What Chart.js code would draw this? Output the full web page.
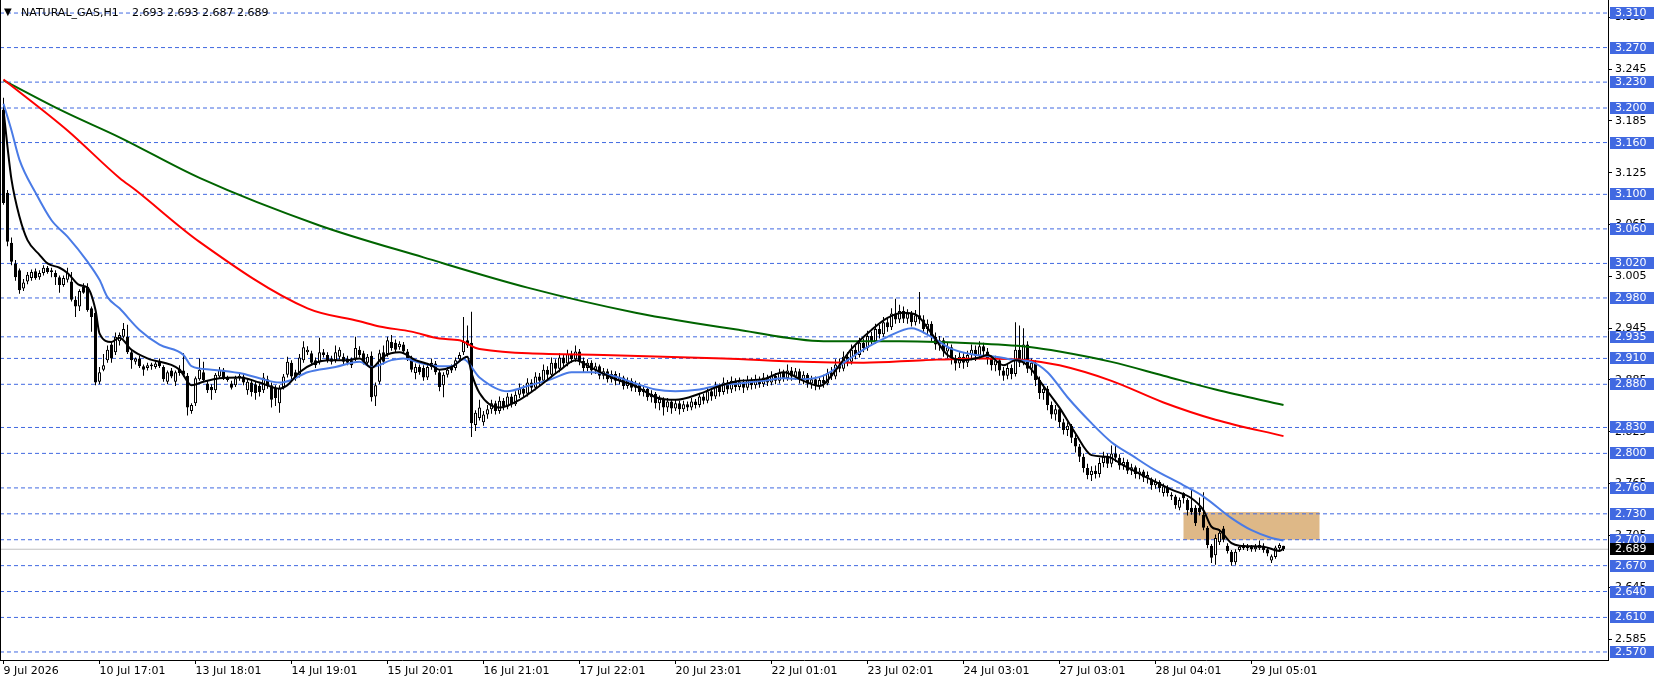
<!DOCTYPE html>
<html>
<head>
<meta charset="utf-8">
<title>NATURAL_GAS,H1</title>
<script src="https://cdn.jsdelivr.net/npm/chart.js@4/dist/chart.umd.min.js"></script>
<style>
  html, body { margin: 0; padding: 0; background: #ffffff; }
  canvas { display: block; }
</style>
</head>
<body>
<canvas id="myChart" width="1658" height="684"></canvas>
<script>
"use strict";

const symbolName = "NATURAL_GAS,H1";

// hourly candles, bar 0 = 9 Jul 2026
const opens = [
  3.198, 3.102, 3.044, 3.020, 3.012, 2.991, 2.999, 3.003, 3.011, 3.004,
  3.009, 3.015, 3.010, 3.009, 3.004, 2.995, 3.001, 2.999, 2.978, 2.970,
  2.993, 2.993, 2.968, 2.963, 2.883, 2.897, 2.908, 2.926, 2.917, 2.930,
  2.935, 2.935, 2.917, 2.906, 2.910, 2.901, 2.899, 2.901, 2.900, 2.906,
  2.900, 2.883, 2.896, 2.883, 2.898, 2.896, 2.890, 2.849, 2.858, 2.886,
  2.894, 2.881, 2.877, 2.873, 2.889, 2.897, 2.888, 2.881, 2.879, 2.887,
  2.889, 2.873, 2.882, 2.880, 2.878, 2.873, 2.886, 2.879, 2.876, 2.858,
  2.877, 2.891, 2.905, 2.894, 2.891, 2.908, 2.917, 2.916, 2.908, 2.906,
  2.917, 2.914, 2.910, 2.908, 2.912, 2.912, 2.910, 2.908, 2.910, 2.920,
  2.916, 2.905, 2.913, 2.866, 2.883, 2.917, 2.915, 2.929, 2.928, 2.923,
  2.926, 2.918, 2.910, 2.893, 2.900, 2.899, 2.888, 2.905, 2.904, 2.894,
  2.879, 2.891, 2.900, 2.899, 2.909, 2.917, 2.931, 2.928, 2.833, 2.841,
  2.836, 2.845, 2.851, 2.858, 2.849, 2.861, 2.854, 2.866, 2.857, 2.868,
  2.875, 2.869, 2.882, 2.876, 2.889, 2.884, 2.897, 2.891, 2.905, 2.898,
  2.911, 2.904, 2.915, 2.909, 2.918, 2.907, 2.899, 2.905, 2.896, 2.901,
  2.890, 2.895, 2.886, 2.892, 2.884, 2.888, 2.878, 2.884, 2.876, 2.880,
  2.871, 2.875, 2.865, 2.869, 2.858, 2.863, 2.853, 2.860, 2.852, 2.858,
  2.851, 2.857, 2.853, 2.860, 2.856, 2.866, 2.861, 2.872, 2.866, 2.878,
  2.871, 2.882, 2.874, 2.884, 2.877, 2.883, 2.876, 2.885, 2.879, 2.886,
  2.880, 2.888, 2.882, 2.890, 2.884, 2.893, 2.887, 2.896, 2.889, 2.895,
  2.886, 2.891, 2.881, 2.886, 2.878, 2.885, 2.881, 2.893, 2.889, 2.903,
  2.898, 2.912, 2.906, 2.920, 2.914, 2.928, 2.922, 2.936, 2.930, 2.944,
  2.938, 2.952, 2.946, 2.962, 2.955, 2.965, 2.956, 2.962, 2.952, 2.960,
  2.955, 2.944, 2.950, 2.935, 2.926, 2.931, 2.918, 2.923, 2.910, 2.904,
  2.912, 2.905, 2.914, 2.920, 2.913, 2.924, 2.918, 2.910, 2.902, 2.908,
  2.896, 2.890, 2.899, 2.892, 2.920, 2.905, 2.926, 2.898, 2.905, 2.885,
  2.870, 2.875, 2.856, 2.845, 2.851, 2.836, 2.827, 2.832, 2.818, 2.808,
  2.796, 2.783, 2.775, 2.780, 2.776, 2.789, 2.796, 2.788, 2.800, 2.795,
  2.786, 2.790, 2.780, 2.784, 2.776, 2.779, 2.772, 2.770, 2.763, 2.767,
  2.754, 2.760, 2.752, 2.750, 2.737, 2.754, 2.746, 2.737, 2.737, 2.737,
  2.729, 2.714, 2.693, 2.682, 2.697, 2.713, 2.693, 2.686, 2.674, 2.688,
  2.694, 2.690, 2.692, 2.689, 2.690, 2.693, 2.689, 2.676, 2.680, 2.690,
  2.693
];
const highs = [
  3.212, 3.105, 3.050, 3.024, 3.014, 3.002, 3.010, 3.013, 3.014, 3.012,
  3.018, 3.017, 3.015, 3.012, 3.006, 3.006, 3.015, 3.010, 2.982, 2.990,
  2.997, 2.997, 2.970, 2.966, 2.900, 2.915, 2.925, 2.930, 2.940, 2.940,
  2.951, 2.949, 2.920, 2.911, 2.913, 2.903, 2.905, 2.905, 2.906, 2.910,
  2.902, 2.896, 2.899, 2.896, 2.902, 2.916, 2.893, 2.858, 2.889, 2.910,
  2.906, 2.884, 2.880, 2.893, 2.900, 2.899, 2.890, 2.884, 2.890, 2.892,
  2.892, 2.886, 2.885, 2.883, 2.881, 2.893, 2.890, 2.882, 2.879, 2.879,
  2.892, 2.912, 2.908, 2.897, 2.915, 2.930, 2.924, 2.919, 2.911, 2.934,
  2.921, 2.917, 2.913, 2.925, 2.923, 2.916, 2.913, 2.911, 2.935, 2.924,
  2.919, 2.915, 2.918, 2.882, 2.920, 2.925, 2.935, 2.937, 2.932, 2.930,
  2.929, 2.921, 2.913, 2.904, 2.903, 2.902, 2.903, 2.910, 2.907, 2.897,
  2.894, 2.900, 2.903, 2.911, 2.917, 2.958, 2.948, 2.964, 2.850, 2.862,
  2.849, 2.856, 2.862, 2.861, 2.866, 2.864, 2.870, 2.869, 2.872, 2.881,
  2.879, 2.887, 2.886, 2.894, 2.893, 2.903, 2.901, 2.911, 2.909, 2.916,
  2.915, 2.920, 2.919, 2.925, 2.921, 2.911, 2.909, 2.908, 2.905, 2.903,
  2.899, 2.898, 2.896, 2.895, 2.893, 2.890, 2.888, 2.887, 2.884, 2.882,
  2.879, 2.877, 2.873, 2.871, 2.867, 2.865, 2.864, 2.862, 2.862, 2.861,
  2.861, 2.860, 2.864, 2.863, 2.870, 2.869, 2.877, 2.875, 2.883, 2.881,
  2.888, 2.885, 2.889, 2.887, 2.888, 2.886, 2.890, 2.888, 2.891, 2.889,
  2.893, 2.891, 2.895, 2.893, 2.898, 2.897, 2.903, 2.900, 2.899, 2.898,
  2.895, 2.893, 2.890, 2.889, 2.889, 2.891, 2.898, 2.900, 2.909, 2.910,
  2.918, 2.917, 2.926, 2.925, 2.934, 2.933, 2.942, 2.941, 2.950, 2.949,
  2.958, 2.957, 2.968, 2.979, 2.972, 2.970, 2.967, 2.965, 2.966, 2.987,
  2.960, 2.955, 2.953, 2.940, 2.936, 2.934, 2.928, 2.926, 2.914, 2.917,
  2.916, 2.919, 2.926, 2.925, 2.930, 2.928, 2.922, 2.914, 2.913, 2.911,
  2.900, 2.904, 2.903, 2.952, 2.948, 2.945, 2.930, 2.910, 2.908, 2.889,
  2.880, 2.878, 2.860, 2.856, 2.854, 2.840, 2.836, 2.834, 2.822, 2.811,
  2.800, 2.788, 2.785, 2.786, 2.795, 2.802, 2.800, 2.809, 2.811, 2.799,
  2.795, 2.793, 2.788, 2.786, 2.783, 2.781, 2.779, 2.772, 2.771, 2.769,
  2.765, 2.763, 2.755, 2.752, 2.749, 2.755, 2.748, 2.758, 2.740, 2.749,
  2.755, 2.716, 2.695, 2.706, 2.712, 2.716, 2.696, 2.688, 2.689, 2.694,
  2.696, 2.695, 2.694, 2.695, 2.699, 2.696, 2.691, 2.683, 2.693, 2.696,
  2.693
];
const lows = [
  3.088, 3.040, 3.018, 3.000, 2.985, 2.988, 2.996, 3.000, 3.001, 3.001,
  3.006, 3.008, 3.004, 2.995, 2.986, 2.993, 2.998, 2.976, 2.958, 2.965,
  2.985, 2.964, 2.941, 2.879, 2.880, 2.895, 2.905, 2.905, 2.914, 2.925,
  2.933, 2.915, 2.898, 2.903, 2.899, 2.890, 2.896, 2.897, 2.898, 2.899,
  2.883, 2.880, 2.887, 2.878, 2.890, 2.889, 2.844, 2.846, 2.855, 2.884,
  2.883, 2.870, 2.862, 2.870, 2.887, 2.885, 2.883, 2.874, 2.877, 2.884,
  2.879, 2.868, 2.866, 2.862, 2.866, 2.870, 2.875, 2.853, 2.855, 2.847,
  2.874, 2.888, 2.886, 2.884, 2.888, 2.905, 2.914, 2.902, 2.899, 2.903,
  2.911, 2.905, 2.903, 2.905, 2.909, 2.903, 2.902, 2.899, 2.907, 2.911,
  2.903, 2.902, 2.860, 2.855, 2.880, 2.903, 2.912, 2.919, 2.917, 2.920,
  2.915, 2.907, 2.894, 2.886, 2.891, 2.884, 2.885, 2.897, 2.891, 2.872,
  2.865, 2.888, 2.893, 2.896, 2.906, 2.914, 2.922, 2.819, 2.826, 2.838,
  2.832, 2.840, 2.846, 2.845, 2.846, 2.850, 2.851, 2.853, 2.855, 2.864,
  2.865, 2.866, 2.872, 2.873, 2.879, 2.881, 2.886, 2.888, 2.893, 2.894,
  2.900, 2.901, 2.905, 2.906, 2.902, 2.894, 2.895, 2.891, 2.892, 2.886,
  2.886, 2.882, 2.882, 2.879, 2.880, 2.874, 2.875, 2.872, 2.871, 2.867,
  2.866, 2.861, 2.859, 2.852, 2.850, 2.844, 2.848, 2.846, 2.849, 2.845,
  2.848, 2.849, 2.850, 2.852, 2.853, 2.857, 2.858, 2.861, 2.863, 2.866,
  2.868, 2.869, 2.870, 2.872, 2.873, 2.870, 2.873, 2.874, 2.875, 2.876,
  2.877, 2.878, 2.879, 2.880, 2.881, 2.883, 2.884, 2.884, 2.885, 2.881,
  2.880, 2.876, 2.875, 2.873, 2.874, 2.876, 2.879, 2.885, 2.886, 2.894,
  2.895, 2.901, 2.903, 2.909, 2.911, 2.917, 2.919, 2.925, 2.927, 2.933,
  2.935, 2.941, 2.943, 2.950, 2.951, 2.951, 2.950, 2.947, 2.948, 2.950,
  2.939, 2.938, 2.930, 2.920, 2.919, 2.912, 2.910, 2.903, 2.896, 2.899,
  2.898, 2.900, 2.908, 2.907, 2.909, 2.912, 2.903, 2.896, 2.895, 2.890,
  2.884, 2.886, 2.886, 2.889, 2.900, 2.902, 2.893, 2.890, 2.878, 2.863,
  2.862, 2.850, 2.840, 2.838, 2.830, 2.822, 2.820, 2.812, 2.801, 2.790,
  2.778, 2.770, 2.768, 2.771, 2.772, 2.784, 2.783, 2.784, 2.790, 2.781,
  2.781, 2.776, 2.775, 2.771, 2.770, 2.767, 2.765, 2.758, 2.759, 2.755,
  2.750, 2.750, 2.746, 2.736, 2.734, 2.742, 2.728, 2.729, 2.716, 2.728,
  2.711, 2.690, 2.673, 2.671, 2.694, 2.697, 2.684, 2.670, 2.671, 2.686,
  2.688, 2.687, 2.686, 2.686, 2.688, 2.685, 2.681, 2.673, 2.678, 2.688,
  2.687
];
const closes = [
  3.090, 3.045, 3.022, 3.004, 2.989, 2.998, 3.007, 3.010, 3.003, 3.009,
  3.015, 3.010, 3.012, 3.004, 2.995, 3.003, 3.009, 2.978, 2.970, 2.988,
  2.986, 2.966, 2.958, 2.882, 2.894, 2.902, 2.920, 2.910, 2.935, 2.937,
  2.944, 2.917, 2.908, 2.910, 2.901, 2.897, 2.902, 2.903, 2.904, 2.901,
  2.886, 2.894, 2.889, 2.894, 2.893, 2.891, 2.853, 2.856, 2.887, 2.897,
  2.885, 2.873, 2.873, 2.891, 2.897, 2.888, 2.885, 2.876, 2.887, 2.890,
  2.882, 2.883, 2.871, 2.870, 2.871, 2.888, 2.878, 2.862, 2.864, 2.876,
  2.889, 2.906, 2.889, 2.887, 2.911, 2.923, 2.920, 2.905, 2.902, 2.917,
  2.914, 2.908, 2.906, 2.917, 2.920, 2.906, 2.905, 2.902, 2.922, 2.914,
  2.906, 2.912, 2.865, 2.879, 2.916, 2.906, 2.931, 2.922, 2.920, 2.927,
  2.918, 2.910, 2.897, 2.900, 2.894, 2.888, 2.900, 2.900, 2.894, 2.877,
  2.891, 2.897, 2.896, 2.908, 2.914, 2.929, 2.925, 2.835, 2.847, 2.853,
  2.845, 2.851, 2.858, 2.849, 2.861, 2.854, 2.866, 2.857, 2.868, 2.875,
  2.869, 2.882, 2.876, 2.889, 2.884, 2.897, 2.891, 2.905, 2.898, 2.911,
  2.904, 2.915, 2.909, 2.918, 2.907, 2.899, 2.905, 2.896, 2.901, 2.890,
  2.895, 2.886, 2.892, 2.884, 2.888, 2.878, 2.884, 2.876, 2.880, 2.871,
  2.875, 2.865, 2.869, 2.858, 2.863, 2.853, 2.860, 2.852, 2.858, 2.851,
  2.857, 2.853, 2.860, 2.856, 2.866, 2.861, 2.872, 2.866, 2.878, 2.871,
  2.882, 2.874, 2.884, 2.877, 2.883, 2.876, 2.885, 2.879, 2.886, 2.880,
  2.888, 2.882, 2.890, 2.884, 2.893, 2.887, 2.896, 2.889, 2.895, 2.886,
  2.891, 2.881, 2.886, 2.878, 2.885, 2.881, 2.893, 2.889, 2.903, 2.898,
  2.912, 2.906, 2.920, 2.914, 2.928, 2.922, 2.936, 2.930, 2.944, 2.938,
  2.952, 2.946, 2.962, 2.955, 2.965, 2.956, 2.962, 2.952, 2.960, 2.955,
  2.944, 2.950, 2.935, 2.926, 2.931, 2.918, 2.923, 2.910, 2.904, 2.912,
  2.905, 2.914, 2.920, 2.913, 2.924, 2.918, 2.910, 2.902, 2.908, 2.896,
  2.890, 2.899, 2.892, 2.920, 2.905, 2.926, 2.898, 2.905, 2.885, 2.870,
  2.875, 2.856, 2.845, 2.851, 2.836, 2.827, 2.832, 2.818, 2.808, 2.796,
  2.783, 2.775, 2.780, 2.776, 2.789, 2.796, 2.788, 2.800, 2.795, 2.786,
  2.790, 2.780, 2.784, 2.776, 2.779, 2.772, 2.775, 2.763, 2.767, 2.760,
  2.762, 2.754, 2.750, 2.740, 2.746, 2.748, 2.734, 2.732, 2.719, 2.732,
  2.714, 2.694, 2.679, 2.702, 2.708, 2.700, 2.687, 2.674, 2.686, 2.692,
  2.690, 2.692, 2.689, 2.692, 2.694, 2.688, 2.684, 2.681, 2.691, 2.694,
  2.689
];

// moving averages at these bars
const blackBars = [0, 1, 2, 4, 6, 9, 11, 14, 16, 19, 21, 23, 24, 27, 29, 32, 36, 44, 47, 50,
  54, 59, 64, 69, 71, 74, 78, 81, 86, 89, 92, 95, 99, 103, 107, 109, 112, 116, 117, 119,
  124, 129, 134, 139, 143, 147, 153, 158, 163, 168, 174, 179, 184, 190, 195, 200, 204, 208, 212, 217,
  221, 225, 228, 232, 236, 240, 244, 246, 250, 253, 256, 260, 264, 268, 272, 276, 280, 285, 292, 297,
  300, 302, 304, 307, 309, 315, 319, 320];
const blackValues = [3.198, 3.155, 3.117, 3.074, 3.047, 3.030, 3.020, 3.015, 3.009, 2.995,
  2.992, 2.966, 2.939, 2.929, 2.934, 2.920, 2.910, 2.897, 2.879, 2.883,
  2.887, 2.888, 2.882, 2.875, 2.879, 2.894, 2.905, 2.908, 2.908, 2.910,
  2.899, 2.912, 2.917, 2.908, 2.902, 2.897, 2.900, 2.912, 2.893, 2.870,
  2.853, 2.862, 2.878, 2.896, 2.908, 2.899, 2.886, 2.878, 2.865, 2.862,
  2.869, 2.878, 2.884, 2.886, 2.894, 2.884, 2.878, 2.896, 2.921, 2.943,
  2.957, 2.963, 2.961, 2.939, 2.914, 2.908, 2.911, 2.914, 2.902, 2.908,
  2.902, 2.878, 2.853, 2.823, 2.798, 2.796, 2.786, 2.774, 2.758, 2.748,
  2.734, 2.715, 2.711, 2.696, 2.693, 2.692, 2.687, 2.690];

const blueBars = [0, 2, 4, 8, 12, 16, 21, 24, 26, 29, 34, 39, 45, 47, 52, 59, 64, 69, 72, 76,
  83, 89, 92, 97, 100, 104, 109, 112, 115, 119, 126, 131, 137, 142, 147, 153, 158, 163, 168, 174,
  179, 184, 190, 195, 200, 205, 211, 216, 221, 227, 232, 237, 243, 248, 253, 257, 261, 266, 272, 277,
  282, 287, 295, 300, 307, 312, 317, 320];
const blueValues = [3.205, 3.174, 3.140, 3.102, 3.070, 3.051, 3.022, 3.001, 2.981, 2.968,
  2.943, 2.926, 2.914, 2.901, 2.897, 2.893, 2.887, 2.882, 2.885, 2.894,
  2.900, 2.906, 2.900, 2.908, 2.910, 2.905, 2.901, 2.901, 2.909, 2.888,
  2.872, 2.878, 2.886, 2.894, 2.894, 2.889, 2.881, 2.874, 2.872, 2.874,
  2.879, 2.881, 2.884, 2.887, 2.886, 2.890, 2.908, 2.923, 2.935, 2.945,
  2.935, 2.921, 2.914, 2.912, 2.908, 2.906, 2.894, 2.865, 2.835, 2.813,
  2.798, 2.783, 2.763, 2.750, 2.725, 2.711, 2.702, 2.699];

const redBars = [0, 16, 29, 33, 49, 76, 89, 94, 102, 109, 114, 119, 150, 180, 200, 215, 230, 245, 256, 264,
  277, 290, 303, 320];
const redValues = [3.233, 3.174, 3.119, 3.105, 3.045, 2.968, 2.953, 2.947, 2.941, 2.933,
  2.931, 2.921, 2.914, 2.910, 2.906, 2.905, 2.908, 2.910, 2.908, 2.902,
  2.884, 2.859, 2.839, 2.820];

const greenBars = [0, 15, 29, 49, 79, 105, 131, 158, 184, 205, 224, 245, 257, 264, 277, 290, 303, 320];
const greenValues = [3.232, 3.196, 3.166, 3.119, 3.064, 3.027, 2.992, 2.963, 2.943, 2.930,
  2.930, 2.927, 2.923, 2.918, 2.906, 2.890, 2.874, 2.856];

// horizontal levels drawn on the chart
const levels = [3.310, 3.270, 3.230, 3.200, 3.160, 3.100, 3.060, 3.020, 2.980, 2.935, 2.910,
  2.880, 2.830, 2.800, 2.760, 2.730, 2.700, 2.670, 2.640, 2.610, 2.570];
const lastPrice = 2.689;

// shaded zone (bars / prices)
const zoneFrom = 295;
const zoneTo = 329;
const zoneLow = 2.700;
const zoneHigh = 2.732;

// axes
const priceTicks = [3.305, 3.245, 3.185, 3.125, 3.065, 3.005, 2.945, 2.885, 2.825, 2.765, 2.705, 2.645, 2.585];
const timeTickBars = [0, 24, 48, 72, 96, 120, 144, 168, 192, 216, 240, 264, 288, 312];
const timeTickLabels = ["9 Jul 2026", "10 Jul 17:01", "13 Jul 18:01", "14 Jul 19:01", "15 Jul 20:01",
  "16 Jul 21:01", "17 Jul 22:01", "20 Jul 23:01", "22 Jul 01:01", "23 Jul 02:01", "24 Jul 03:01",
  "27 Jul 03:01", "28 Jul 04:01", "29 Jul 05:01"];

const xMin = -0.875;
const xMax = 401.125;
const yMin = 2.5607;
const yMax = 3.3251;

const levelColor = "#4169E1";
const fontFamily = "'DejaVu Sans', sans-serif";

function toPoints(bars, values) {
  return bars.map((b, i) => ({ x: b, y: values[i] }));
}

function buildDatasets() {
  let wicks = [];
  let bodies = [];
  let bodyColors = [];
  for (let i = 0; i < closes.length; i++) {
    wicks.push({ x: i, y: [lows[i], highs[i]] });
    bodies.push({ x: i, y: [opens[i], closes[i]] });
    bodyColors.push(closes[i] >= opens[i] ? "#ffffff" : "#000000");
  }

  let sets = [];

  const maLine = (label, bars, values, color, order) => ({
    type: "line",
    label: label,
    data: toPoints(bars, values),
    borderColor: color,
    borderWidth: 2,
    pointRadius: 0,
    cubicInterpolationMode: "monotone",
    order: order,
  });

  sets.push(maLine("MA fast", blackBars, blackValues, "#000000", 0));
  sets.push(maLine("MA 20", blueBars, blueValues, "#4a7be6", 1));
  sets.push(maLine("MA 100", redBars, redValues, "#ff0000", 2));
  sets.push(maLine("MA 200", greenBars, greenValues, "#006400", 3));

  sets.push({
    type: "bar",
    label: "bodies",
    data: bodies,
    backgroundColor: bodyColors,
    borderColor: "#000000",
    borderWidth: 1,
    borderSkipped: false,
    inflateAmount: 0,
    barThickness: 3,
    grouped: false,
    order: 4,
  });
  sets.push({
    type: "bar",
    label: "wicks",
    data: wicks,
    backgroundColor: "#000000",
    borderWidth: 0,
    inflateAmount: 0,
    barThickness: 1,
    grouped: false,
    order: 5,
  });

  sets.push({
    type: "line",
    label: "last",
    data: [{ x: xMin, y: lastPrice }, { x: xMax, y: lastPrice }],
    borderColor: "#c0c0c0",
    borderWidth: 1,
    pointRadius: 0,
    order: 7,
  });

  for (let v of levels) {
    sets.push({
      type: "line",
      label: "level " + v,
      data: [{ x: xMin, y: v }, { x: xMax, y: v }],
      borderColor: levelColor,
      borderWidth: 1,
      borderDash: [4, 3],
      pointRadius: 0,
      order: 8,
    });
  }
  return sets;
}

const overlayPlugin = {
  id: "overlay",
  beforeDatasetsDraw(chart) {
    const { ctx, scales } = chart;
    const left = scales.x.getPixelForValue(zoneFrom);
    const right = scales.x.getPixelForValue(zoneTo);
    const top = scales.y.getPixelForValue(zoneHigh);
    const bottom = scales.y.getPixelForValue(zoneLow);
    ctx.save();
    ctx.fillStyle = "#deb887";
    ctx.fillRect(left, top, right - left, bottom - top);
    ctx.restore();
  },
  afterDraw(chart) {
    const { ctx, chartArea, scales } = chart;
    ctx.save();

    // left frame
    ctx.strokeStyle = "#000000";
    ctx.lineWidth = 1;
    ctx.beginPath();
    ctx.moveTo(0.5, chartArea.top);
    ctx.lineTo(0.5, chartArea.bottom);
    ctx.stroke();

    ctx.font = "11px " + fontFamily;
    ctx.textBaseline = "middle";
    ctx.textAlign = "left";

    for (let v of levels) {
      let py = Math.round(scales.y.getPixelForValue(v));
      ctx.fillStyle = levelColor;
      ctx.fillRect(chartArea.right + 2, py - 6, 44, 12);
      ctx.fillStyle = "#ffffff";
      ctx.fillText(v.toFixed(3), chartArea.right + 7, py);
    }

    let lastY = Math.round(scales.y.getPixelForValue(lastPrice));
    ctx.fillStyle = "#000000";
    ctx.fillRect(chartArea.right + 2, lastY - 6, 44, 12);
    ctx.fillStyle = "#ffffff";
    ctx.fillText(lastPrice.toFixed(3), chartArea.right + 7, lastY);

    // title line
    const n = closes.length - 1;
    const ohlc = [opens[n], highs[n], lows[n], closes[n]].map((v) => v.toFixed(3)).join(" ");
    ctx.fillStyle = "#000000";
    ctx.font = "10px " + fontFamily;
    ctx.fillText("\u25BC", 4, 12);
    ctx.font = "11px " + fontFamily;
    ctx.fillText(symbolName, 21, 13);
    ctx.fillText(ohlc, 132, 13);

    ctx.restore();
  },
};

const ctx = document.getElementById("myChart").getContext("2d");

const myChart = new Chart(ctx, {
  type: "line",
  data: { datasets: buildDatasets() },
  options: {
    responsive: false,
    animation: false,
    devicePixelRatio: 1,
    layout: { padding: 0 },
    plugins: {
      legend: { display: false },
      tooltip: { enabled: false },
    },
    scales: {
      x: {
        type: "linear",
        position: "bottom",
        min: xMin,
        max: xMax,
        offset: false,
        grid: { drawOnChartArea: false, drawTicks: true, tickLength: 4, color: "#000000", offset: false },
        border: { display: true, color: "#000000", width: 1 },
        afterBuildTicks: (scale) => {
          scale.ticks = timeTickBars.map((v) => ({ value: v }));
        },
        afterFit: (scale) => {
          scale.height = 24;
          scale.paddingLeft = 0;
          scale.paddingRight = 0;
        },
        ticks: {
          autoSkip: false,
          maxRotation: 0,
          minRotation: 0,
          align: "start",
          padding: 1,
          color: "#000000",
          font: { family: fontFamily, size: 11 },
          callback: (value, index) => timeTickLabels[index],
        },
      },
      y: {
        type: "linear",
        position: "right",
        min: yMin,
        max: yMax,
        beginAtZero: false,
        grid: { drawOnChartArea: false, drawTicks: true, tickLength: 4, color: "#000000" },
        border: { display: true, color: "#000000", width: 1 },
        afterBuildTicks: (scale) => {
          scale.ticks = priceTicks.map((v) => ({ value: v }));
        },
        afterFit: (scale) => {
          scale.width = 50;
          scale.paddingTop = 0;
          scale.paddingBottom = 0;
        },
        ticks: {
          autoSkip: false,
          padding: 3,
          color: "#000000",
          font: { family: fontFamily, size: 11 },
          callback: (value) => Number(value).toFixed(3),
        },
      },
    },
  },
  plugins: [overlayPlugin],
});
</script>
</body>
</html>
